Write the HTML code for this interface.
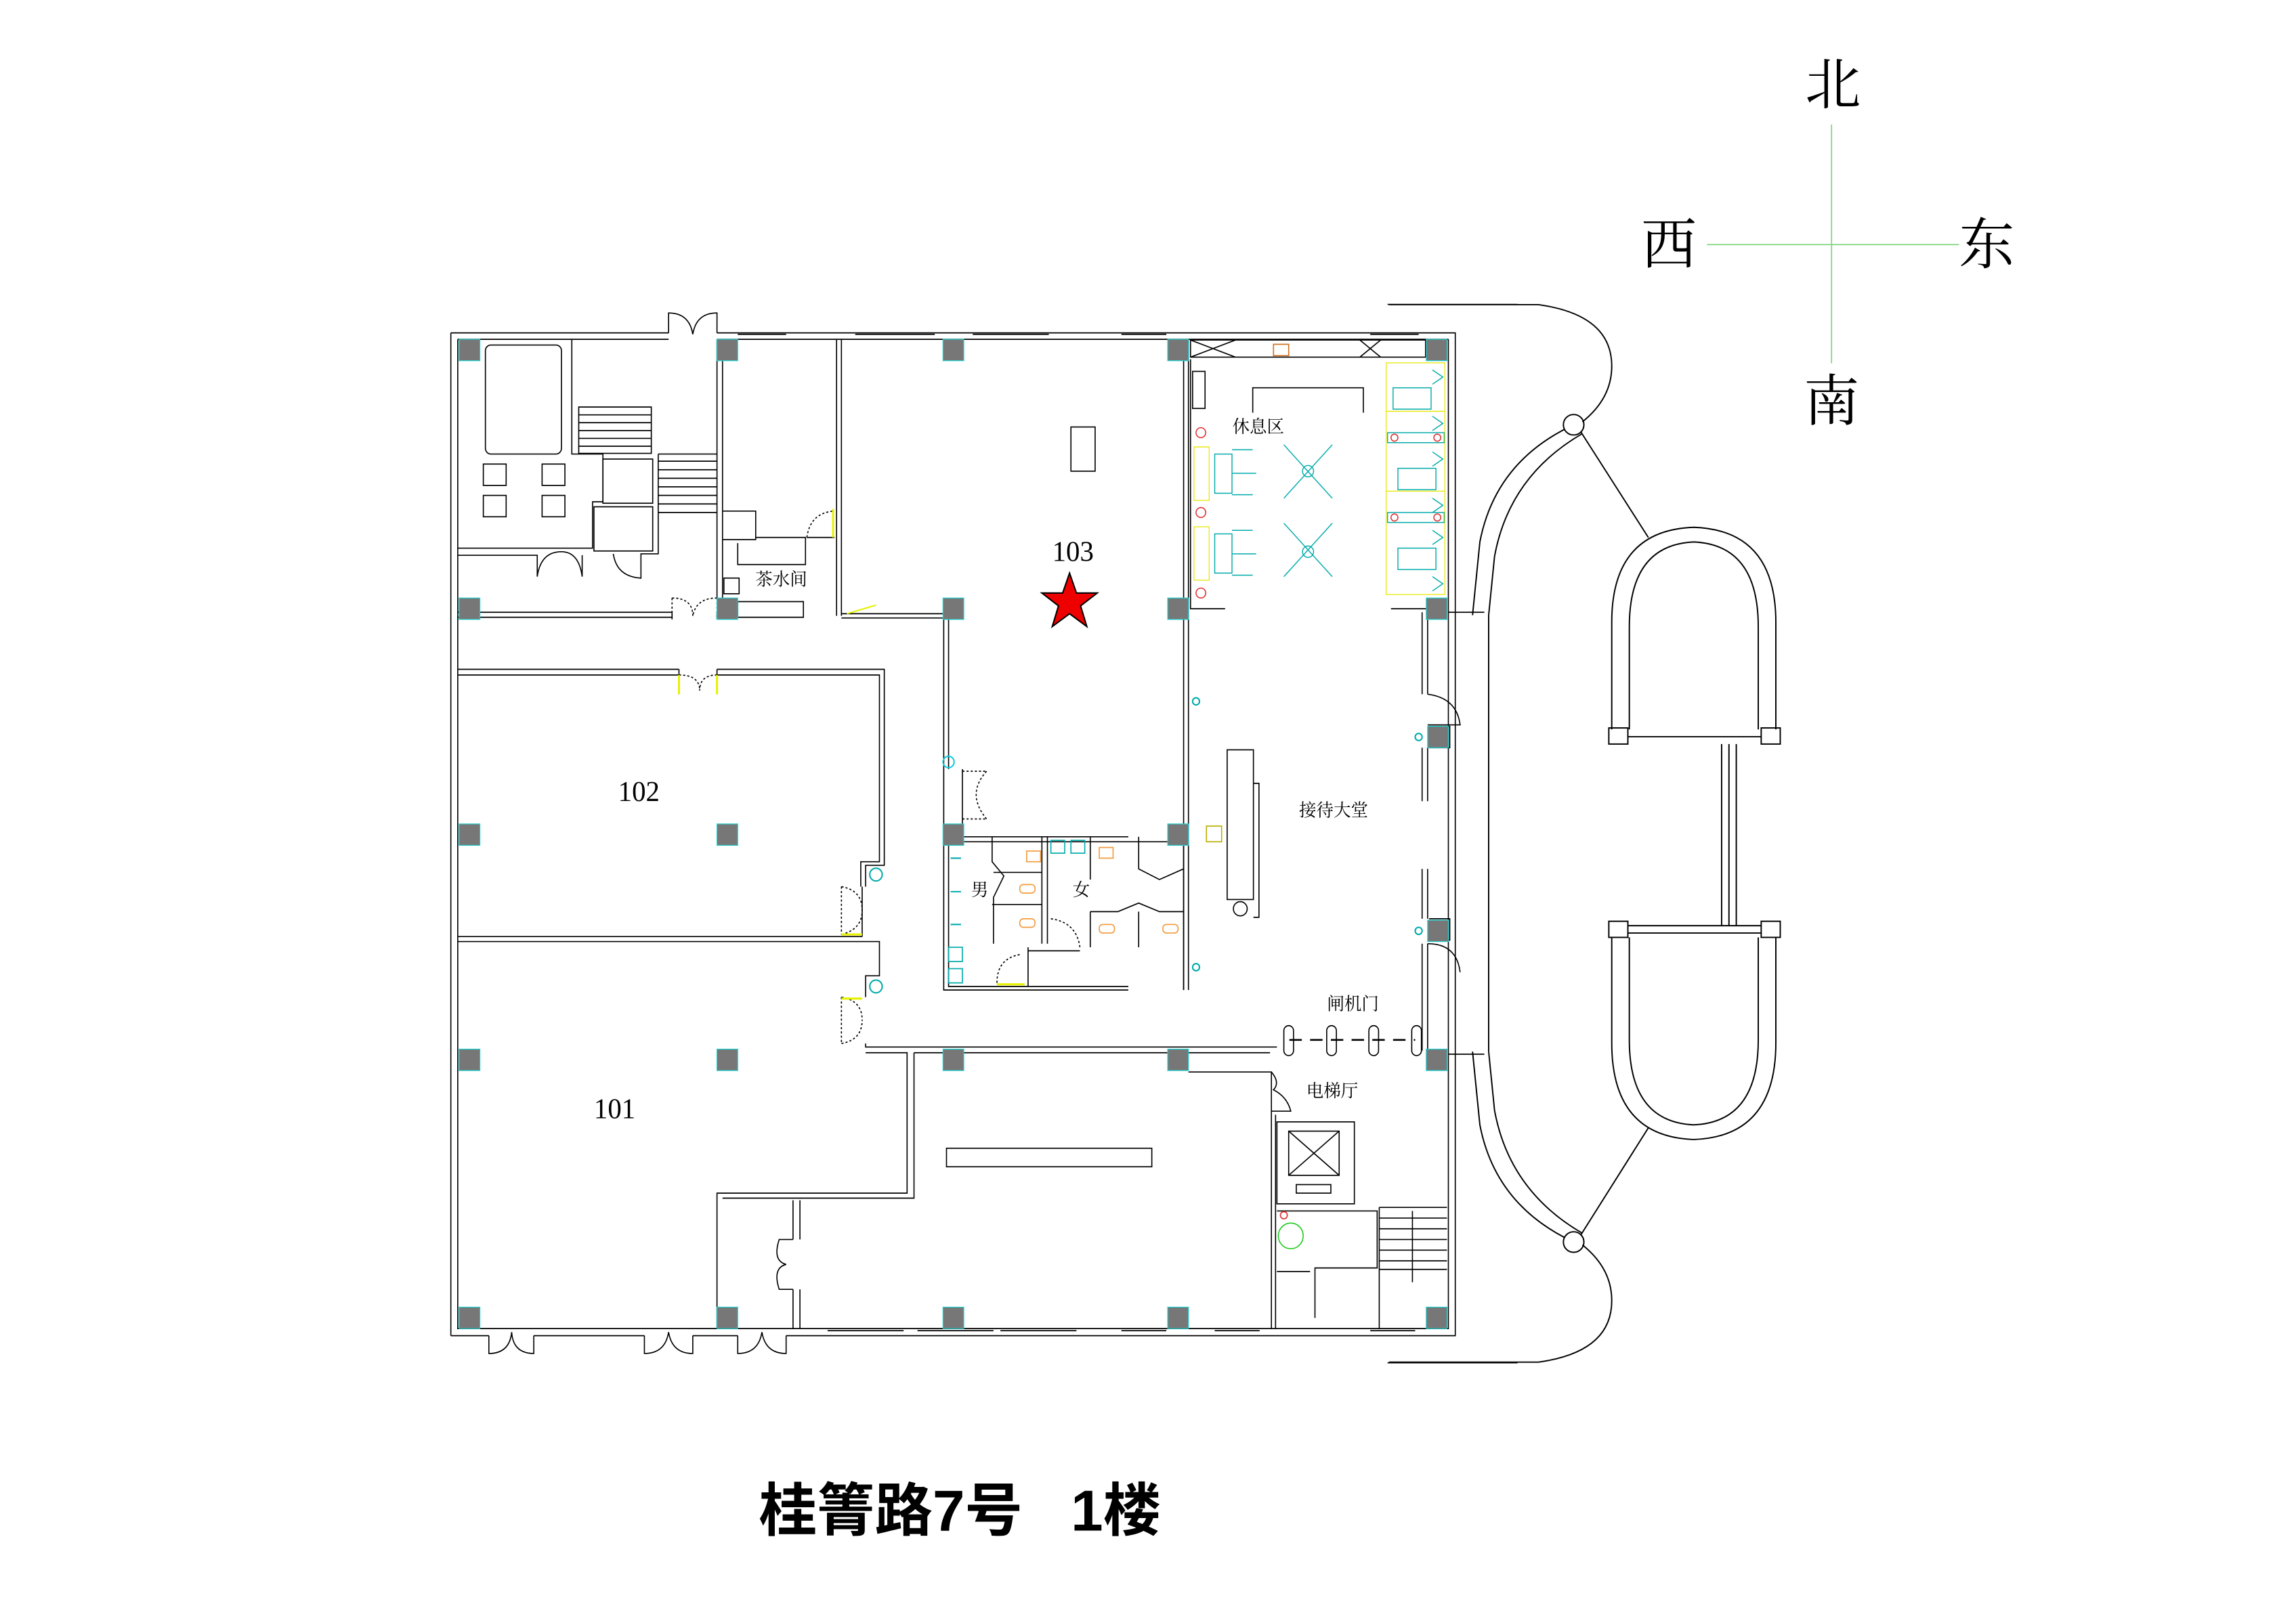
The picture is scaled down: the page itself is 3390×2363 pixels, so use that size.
<!DOCTYPE html>
<html><head><meta charset="utf-8"><style>
html,body{margin:0;padding:0;background:#fff}
svg{display:block}
text{font-family:"Liberation Serif","Noto Serif CJK SC","Noto Sans CJK SC",serif}
</style></head><body>
<svg width="3390" height="2363" viewBox="0 0 1567 1092.4" preserveAspectRatio="none" xmlns="http://www.w3.org/2000/svg">
<rect width="1567" height="1093" fill="#fff"/>
<g stroke="#7fd67f" stroke-width="0.8">
<line x1="1250" y1="85" x2="1250" y2="248"/>
<line x1="1165" y1="167" x2="1337" y2="167"/>
</g>
<g font-size="38" fill="#000" text-anchor="middle" style="font-family:'Noto Serif CJK SC',serif">
<text x="1251" y="71">北</text>
<text x="1139" y="180">西</text>
<text x="1356" y="180">东</text>
<text x="1250" y="287">南</text>
</g>
<text x="518" y="1045" font-size="39.5" style="font-family:'Liberation Sans','Noto Sans CJK SC',sans-serif;font-weight:bold">桂箐路7号&#160;&#160;&#160;1楼</text>

<g fill="none" stroke="#000" stroke-width="0.9">
<path d="M948 208 L1050 208 Q1100 215 1100 250 Q1100 272 1080 288"/>
<circle cx="1074" cy="290" r="7"/>
<path d="M1068 293 Q1020 318 1010 370 L1005 420"/>
<path d="M1080 296 Q1030 325 1020 380 L1016 420"/>
<line x1="1016" y1="420" x2="1016" y2="718"/>
<path d="M948 930 L1050 930 Q1100 923 1100 888 Q1100 866 1080 850"/>
<circle cx="1074" cy="848" r="7"/>
<path d="M1068 845 Q1020 820 1010 768 L1005 718"/>
<path d="M1080 842 Q1030 813 1020 758 L1016 718"/>
<line x1="1079" y1="295" x2="1125" y2="367"/>
<line x1="1079" y1="843" x2="1125" y2="770"/>
<path d="M1100 498 L1100 425 Q1100 362 1156 360 Q1212 362 1212 425 L1212 498"/>
<path d="M1112 498 L1112 428 Q1112 372 1156 370 Q1200 372 1200 428 L1200 498"/>
<path d="M1100 640 L1100 712 Q1100 776 1156 778 Q1212 776 1212 712 L1212 640"/>
<path d="M1112 640 L1112 710 Q1112 766 1156 768 Q1200 766 1200 710 L1200 640"/>
<rect x="1098" y="497" width="13" height="11"/><rect x="1202" y="497" width="13" height="11"/>
<rect x="1098" y="629" width="13" height="11"/><rect x="1202" y="629" width="13" height="11"/>
<line x1="1111" y1="503" x2="1202" y2="503"/>
<line x1="1111" y1="632" x2="1202" y2="632"/><line x1="1111" y1="637" x2="1202" y2="637"/>
<line x1="1175" y1="508" x2="1175" y2="632"/><line x1="1180" y1="508" x2="1180" y2="632"/><line x1="1185" y1="508" x2="1185" y2="632"/>
</g>

<g transform="translate(295.9,194.2) scale(0.4718,0.4866)" fill="none" stroke="#000" stroke-width="1.6">
<path d="M25 68 L340 68 M410 68 L1478 68 L1478 1475 L1200 1475 M1200 1475 L510 1475 M440 1475 L375 1475 M305 1475 L145 1475 M80 1475 L25 1475 Z"/>
<path d="M35 77 L340 77 M410 77 L1468 77 M1468 77 L1468 1465 L35 1465 L35 77"/>
<line x1="25" y1="68" x2="25" y2="1475"/>
<path d="M1380 28 L1568 28 M1380 1513 L1568 1513"/>
<path d="M340 68 L340 40 Q370 40 375 70 M410 68 L410 40 Q380 40 375 70"/>
<path d="M80 1475 L80 1500 Q110 1500 113 1470 M145 1475 L145 1500 Q115 1500 113 1470"/>
<path d="M305 1475 L305 1500 Q335 1500 340 1470 M375 1475 L375 1500 Q345 1500 340 1470"/>
<path d="M440 1475 L440 1500 Q470 1500 475 1470 M510 1475 L510 1500 Q480 1500 475 1470"/>
<path d="M440 70 h70 M610 70 h115 M780 70 h110 M995 70 h65 M1355 70 h70"/>
<path d="M570 1468 h110 M700 1468 h110 M820 1468 h110 M995 1468 h65 M1130 1468 h65 M1355 1468 h65"/>
<rect x="75" y="85" width="110" height="153" rx="8"/>
<path d="M200 77 L200 238 L245 238 L245 305 L230 305 L230 370 L35 370 M35 380 L150 380 L150 410 M215 380 L215 410 M150 410 Q155 375 185 375 M215 410 Q210 375 185 375"/>
<rect x="72" y="252" width="33" height="30"/><rect x="72" y="296" width="33" height="30"/>
<rect x="157" y="252" width="33" height="30"/><rect x="157" y="296" width="33" height="30"/>
<rect x="245" y="245" width="72" height="62"/><rect x="232" y="312" width="85" height="62"/>
<path d="M210 172 h105 v65 h-105 z M210 183 h105 M210 194 h105 M210 205 h105 M210 216 h105 M210 227 h105"/>
<path d="M325 238 v140 h-25 v35 M325 248 h85 M325 260 h85 M325 272 h85 M325 284 h85 M325 296 h85 M325 308 h85 M325 320 h85 M325 238 h85 M260 378 Q265 410 300 412"/>
<path d="M410 77 V440 M418 105 V440 M418 105 H440 M418 318 h48 v40 h-48 M466 355 h72 v38 h-98 v-30 M540 355 h40 M583 77 V465 M590 77 V465"/>
<rect x="420" y="412" width="22" height="22"/>
<path d="M540 355 Q545 320 580 318" stroke-dasharray="3 3"/>
<line x1="578" y1="315" x2="578" y2="355" stroke="#e6f200" stroke-width="3"/>
<path d="M35 460 H345 M35 467 H345 M410 467 H535 V445 H440 V467 M345 460 v10 M410 460 v10"/>
<path d="M345 440 v28 M410 440 v28 M345 440 Q375 440 375 465 M410 440 Q380 440 375 465" stroke-dasharray="3 3"/>
<path d="M590 462 H738 M590 468 H738 M738 468 V765 M745 468 V680 M765 680 V765 M1085 77 V990 M1092 77 V990"/>
<path d="M598 462 L640 450" stroke="#e6f200" stroke-width="2"/>
<path d="M765 683 h35 M765 750 h35 M800 683 Q770 715 800 750" stroke-dasharray="3 3"/>
<rect x="922" y="200" width="35" height="62"/>
<path d="M35 540 H355 M35 548 H355 M410 540 H652 V815 H625 V845 M410 548 H645 V810 H618 V845 M355 540 v35 M410 540 v35"/>
<path d="M355 548 Q385 548 385 570 M410 548 Q385 548 385 570" stroke-dasharray="3 3"/>
<line x1="355" y1="548" x2="355" y2="575" stroke="#e6f200" stroke-width="3"/>
<line x1="410" y1="548" x2="410" y2="575" stroke="#e6f200" stroke-width="3"/>
<path d="M35 915 H620 M35 922 H645 V970 H625 V1000 M620 845 V915 M625 1065 V1070 H1220 M625 1078 H685 V1275 H410 V1465 M695 1078 H1210 M695 1078 V1282 H418 M520 1285 V1340 M530 1285 V1340 M520 1410 V1465 M530 1410 V1465"/>
<path d="M590 845 V912 M590 845 Q620 850 620 878 M590 912 Q620 905 620 878" stroke-dasharray="3 3"/>
<line x1="590" y1="912" x2="620" y2="912" stroke="#e6f200" stroke-width="3"/>
<path d="M590 1000 V1065 M590 1000 Q620 1005 620 1032 M590 1065 Q620 1060 620 1032" stroke-dasharray="3 3"/>
<line x1="590" y1="1002" x2="620" y2="1002" stroke="#e6f200" stroke-width="3"/>
<path d="M520 1340 L500 1340 Q490 1370 510 1375 Q490 1380 500 1410 L520 1410"/>
<rect x="742" y="1212" width="297" height="26"/>
<path d="M738 775 H1005 M745 782 H1085 V990 M738 775 V990 H1005 M745 782 V985 H1005"/>
<path d="M808 775 V810 L825 830 L810 860 V925 M808 870 H880 M810 825 H880 M880 775 V925 M888 775 V925 M950 775 V835 M1020 775 V820 L1050 835 L1085 820 M950 880 V930 M1020 880 V930 M950 880 H990 L1020 868 L1050 880 H1085 M860 935 H935 M860 930 V985"/>
<path d="M815 980 Q815 945 850 940 M893 890 Q930 895 935 930" stroke-dasharray="3 3"/>
<line x1="815" y1="982" x2="855" y2="982" stroke="#e6f200" stroke-width="3"/>
<rect x="745" y="930" width="20" height="20" stroke="#0aa"/><rect x="745" y="960" width="20" height="20" stroke="#0aa"/>
<rect x="893" y="780" width="20" height="18" stroke="#0aa"/><rect x="922" y="780" width="20" height="18" stroke="#0aa"/>
<g stroke="#f39a3a"><rect x="848" y="842" width="22" height="12" rx="5"/><rect x="848" y="890" width="22" height="12" rx="5"/><rect x="963" y="898" width="22" height="12" rx="5"/><rect x="1055" y="898" width="22" height="12" rx="5"/><rect x="963" y="790" width="20" height="15"/><rect x="858" y="795" width="20" height="15"/></g>
<g stroke="#0aa" stroke-width="2"><path d="M748 805 h15 M748 852 h15 M748 898 h15"/><circle cx="745" cy="670" r="8" stroke="#1cd"/><circle cx="640" cy="828" r="9"/><circle cx="640" cy="985" r="9"/><circle cx="1103" cy="585" r="5"/><circle cx="1103" cy="958" r="5"/><circle cx="1425" cy="635" r="5"/><circle cx="1425" cy="907" r="5"/></g>
<path d="M1095 105 V455 H1145 M1385 455 H1438 V575 M1430 460 V575 M1430 650 V725 M1438 650 V725 M1430 820 V890 M1438 820 V890 M1430 925 V1075 M1438 925 V1075 M1438 575 Q1480 580 1485 618 H1438 M1438 925 Q1480 925 1485 965 M1440 620 h30 v30 h-30 M1440 890 h30 v30 h-30"/>
<path d="M1468 460 L1520 460 M1468 1080 L1520 1080"/>
<rect x="1148" y="653" width="38" height="210"/>
<path d="M1186 700 h8 v188 h-8"/>
<circle cx="1167" cy="876" r="10"/>
<rect x="1118" y="760" width="22" height="22" stroke="#bbb000"/>
<rect x="1098" y="122" width="18" height="52"/>
<path d="M1095 78 h340 v24 h-340 z M1095 78 l65 24 M1160 78 l-65 24 M1340 78 l30 24 M1370 78 l-30 24"/>
<path d="M1185 180 V145 H1345 V180"/>
<g stroke="#0aa" stroke-width="1.4">
<rect x="1130" y="238" width="25" height="55"/><rect x="1130" y="350" width="25" height="55"/>
<path d="M1155 232 h30 M1155 265 h35 M1155 295 h30 M1155 345 h30 M1155 378 h35 M1155 408 h30"/>
<path d="M1230 225 L1300 300 M1300 225 L1230 300 M1230 335 L1300 410 M1300 335 L1230 410"/>
<circle cx="1265" cy="262" r="8"/><circle cx="1265" cy="375" r="8"/>
<rect x="1388" y="145" width="55" height="30"/><rect x="1395" y="258" width="55" height="30"/><rect x="1395" y="370" width="55" height="30"/>
<rect x="1380" y="208" width="82" height="14"/><rect x="1380" y="320" width="82" height="14"/>
<path d="M1445 120 l15 10 l-15 10 M1445 185 l15 10 l-15 10 M1445 235 l15 10 l-15 10 M1445 300 l15 10 l-15 10 M1445 345 l15 10 l-15 10 M1445 410 l15 10 l-15 10"/>
</g>
<g stroke="#e6e600" stroke-width="1.2"><path d="M1100 228 h22 v75 h-22 z M1100 340 h22 v75 h-22 z M1378 110 h85 v325 h-85 z M1378 178 h85 M1378 290 h85"/></g>
<g stroke="#e03030" stroke-width="1.5"><circle cx="1110" cy="208" r="7"/><circle cx="1110" cy="320" r="7"/><circle cx="1110" cy="433" r="7"/><circle cx="1390" cy="215" r="5"/><circle cx="1452" cy="215" r="5"/><circle cx="1390" cy="327" r="5"/><circle cx="1452" cy="327" r="5"/></g>
<rect x="1215" y="84" width="22" height="16" stroke="#d07020"/>
<path d="M1238 1060 H1420" stroke-width="2.5" stroke-dasharray="18 12"/>
<rect x="1230" y="1040" width="14" height="42" rx="7"/><rect x="1292" y="1040" width="14" height="42" rx="7"/><rect x="1353" y="1040" width="14" height="42" rx="7"/><rect x="1415" y="1040" width="14" height="42" rx="7"/>
<path d="M1092 1105 H1212 V1160 M1212 1105 Q1225 1120 1215 1130 Q1235 1140 1240 1160 H1212 M1212 1160 V1465 M1218 1165 V1465"/>
<rect x="1220" y="1175" width="112" height="115"/><rect x="1237" y="1188" width="73" height="62"/>
<path d="M1237 1188 L1310 1250 M1310 1188 L1237 1250"/><rect x="1248" y="1263" width="50" height="12"/>
<path d="M1220 1300 H1365 V1380 H1275 V1450 M1220 1385 H1268"/>
<path d="M1368 1295 h98 M1368 1310 h98 M1368 1325 h98 M1368 1340 h98 M1368 1355 h98 M1368 1370 h98 M1368 1382 h98 M1368 1295 V1465 M1416 1300 V1400"/>
<g stroke="#2c2"><circle cx="1240" cy="1335" r="18"/><circle cx="1230" cy="1306" r="5" stroke="#e03030"/></g>
</g>
<g transform="translate(295.9,194.2) scale(0.4718,0.4866)" fill="#777" stroke="#2cc" stroke-width="1.2">
<rect x="37" y="77" width="30" height="30"/><rect x="410" y="77" width="30" height="30"/><rect x="737" y="77" width="30" height="30"/><rect x="1062" y="77" width="30" height="30"/><rect x="1436" y="77" width="30" height="30"/>
<rect x="37" y="440" width="30" height="30"/><rect x="410" y="440" width="30" height="30"/><rect x="737" y="440" width="30" height="30"/><rect x="1062" y="440" width="30" height="30"/><rect x="1436" y="440" width="30" height="30"/>
<rect x="37" y="757" width="30" height="30"/><rect x="410" y="757" width="30" height="30"/><rect x="737" y="757" width="30" height="30"/><rect x="1062" y="757" width="30" height="30"/>
<rect x="1438" y="620" width="30" height="30"/><rect x="1438" y="892" width="30" height="30"/>
<rect x="37" y="1073" width="30" height="30"/><rect x="410" y="1073" width="30" height="30"/><rect x="737" y="1073" width="30" height="30"/><rect x="1062" y="1073" width="30" height="30"/><rect x="1436" y="1073" width="30" height="30"/>
<rect x="37" y="1435" width="30" height="30"/><rect x="410" y="1435" width="30" height="30"/><rect x="737" y="1435" width="30" height="30"/><rect x="1062" y="1435" width="30" height="30"/><rect x="1436" y="1435" width="30" height="30"/>
</g>
<g transform="translate(295.9,194.2) scale(0.4718,0.4866)" fill="#000" text-anchor="middle">
<text x="925" y="388" font-size="40">103</text>
<text x="297" y="725" font-size="40">102</text>
<text x="262" y="1170" font-size="40">101</text>
<g font-size="25" style="font-family:'Noto Serif CJK SC',serif">
<text x="503" y="422">茶水间</text><text x="1193" y="208">休息区</text><text x="1302" y="746">接待大堂</text>
<text x="790" y="858">男</text><text x="937" y="858">女</text><text x="1330" y="1018">闸机门</text><text x="1300" y="1140">电梯厅</text>
</g>
<polygon points="920,405 930,433 960,433 936,451 945,480 920,462 895,480 904,451 880,433 910,433" fill="#e00" stroke="#000" stroke-width="2"/>
</g>
</svg>
</body></html>
